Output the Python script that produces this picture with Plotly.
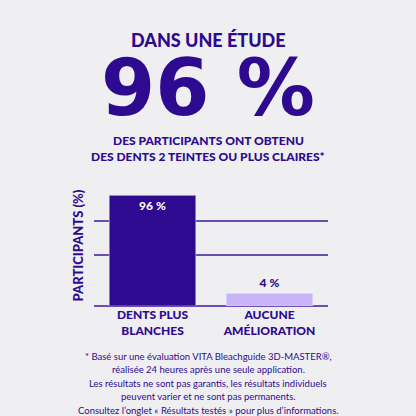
import plotly.graph_objects as go

categories = ["DENTS PLUS<br>BLANCHES", "AUCUNE<br>AMÉLIORATION"]
values = [96, 11]
labels = ["96 %", "4 %"]
grid_vals = [0, 44, 74, 105]

P = "#2d0a8f"
TOP, BOT, L, R = 185, 306, 94, 328
fig = go.Figure(go.Bar(x=categories, y=values, marker_color=[P, "#c8b4f6"], width=0.74,
                       text=labels, textposition=["inside", "outside"], insidetextanchor="end",
                       textfont=dict(family="Lato", weight=900, size=12, color=["white", P]),
                       cliponaxis=False))
fig.update_layout(
    width=416, height=416, paper_bgcolor="#efeff2", plot_bgcolor="#efeff2",
    margin=dict(l=L, r=416 - R, t=TOP, b=416 - BOT, pad=0), showlegend=False,
    font=dict(family="Lato", color=P),
    xaxis=dict(tickfont=dict(size=12, family="Lato", weight=900, color=P), showline=False, ticks=""),
    yaxis=dict(range=[0, 105], tickvals=grid_vals, showticklabels=False, gridcolor="#6a4fb0",
               gridwidth=1.5, zeroline=True, zerolinecolor="#6a4fb0", zerolinewidth=1.5,
               title=dict(text="PARTICIPANTS (%)", font=dict(size=13, family="Lato", weight=900, color=P), standoff=6)),
)
def ann(t, y, s, w=900, fam="Lato"):
    fig.add_annotation(text=t, x=(208 - L) / (R - L), y=(BOT - y) / (BOT - TOP), xref="paper", yref="paper",
                       showarrow=False, font=dict(size=s, family=fam, weight=w, color=P),
                       xanchor="center", yanchor="middle")
ann("DANS UNE ÉTUDE", 40, 18)
ann("96 %", 88, 78, 700, "DejaVu Sans")
ann("DES PARTICIPANTS ONT OBTENU", 140, 12)
ann("DES DENTS 2 TEINTES OU PLUS CLAIRES*", 156, 12)
foot = ["* Basé sur une évaluation VITA Bleachguide 3D-MASTER®,",
        "réalisée 24 heures après une seule application.",
        "Les résultats ne sont pas garantis, les résultats individuels",
        "peuvent varier et ne sont pas permanents.",
        "Consultez l’onglet « Résultats testés » pour plus d’informations."]
for i, t in enumerate(foot):
    ann(t, 356 + i * 13.6, 9.5, 400)
fig.write_html("out.html", config={"displayModeBar": False},
               post_script="document.body.style.margin='0';document.body.style.overflow='hidden';")
